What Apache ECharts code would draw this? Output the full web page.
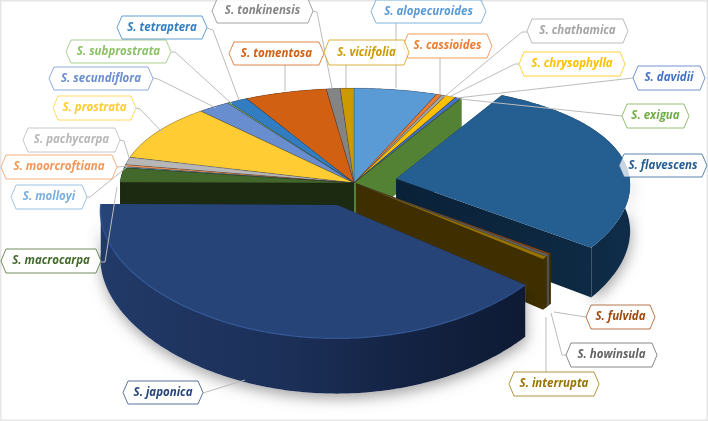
<!DOCTYPE html>
<html>
<head>
<meta charset="utf-8">
<style>html,body{margin:0;padding:0;background:#fff}#c{width:708px;height:421px}</style>
<script src="https://cdn.jsdelivr.net/npm/echarts@6/dist/echarts.min.js"></script>
</head>
<body>
<div id="c"></div>
<script>
// ---- data (share of the pie, %) ----
var species = ['S. alopecuroides','S. cassioides','S. chathamica','S. chrysophylla','S. davidii','S. exigua','S. flavescens','S. fulvida','S. howinsula','S. interrupta','S. japonica','S. macrocarpa','S. molloyi','S. moorcroftiana','S. pachycarpa','S. prostrata','S. secundiflora','S. subprostrata','S. tetraptera','S. tomentosa','S. tonkinensis','S. viciifolia'];
var shares = [6.03,0.39,0.31,0.75,0.42,0.06,27.14,0.19,0.28,0.39,39.19,2.17,0.17,0.31,1.17,9.17,2.36,0.14,1.42,5.97,1.0,1.0];
var explode = [0,0,0,0,0,0,0.185,0.012,0.012,0.012,0.21,0,0,0,0,0,0,0,0,0,0,0];

// ---- styles ----
var topColors = ['#5B9BD5','#ED7D31','#A5A5A5','#FFC000','#4472C4','#548235','#255E91','#9E480E','#636363','#997300','#264478','#43682B','#7CAFDD','#F1975A','#B7B7B7','#FFCD33','#698ED0','#8CC168','#327DC2','#D26012','#848484','#CC9A00'];
var wallColors = ['#1e3f5e','#5e3113','#424242','#664d00','#1b2d4e','#548235','#0f2a45','#3f2f00','#4f4f4f','#3f2f00','#172a4c','#1b2a11','#31465a','#603c24','#494949','#665214','#2a3953','#384d29','#14324e','#542607','#353535','#514000'];
var textColors = ['#5B9BD5','#ED7D31','#A5A5A5','#FFC000','#4472C4','#70AD47','#255E91','#9E480E','#636363','#997300','#264478','#43682B','#7CAFDD','#F1975A','#B7B7B7','#FFCD33','#698ED0','#8CC168','#327DC2','#D26012','#848484','#CC9A00'];
var paintOrder = [0,1,2,3,4,5,21,20,19,18,17,16,15,14,13,12,11,6,7,8,9,10];

// ---- callout layout: [left,right,top,bottom] and leader path ----
var boxes = [[371,486,0,23],[403,492,34,58],[527,628,19,43],[519,625,52,76],[633,705,66,90],[622,689,104,128],[619,707,154,177],[586,655,305,329],[566,657,343,367],[509,599,372,396],[123,203,381,404],[1,101,249,273],[11,87,185,209],[1,117,155,179],[23,120,128,152],[53,136,96,120],[49,153,67,90],[66,171,40,63],[117,207,16,39],[229,324,42,65],[212,313,-1,23],[324,409,40,65]];
var leaders = [
 [[396,23],[396,88]],[[440,58],[440,95]],[[527,32],[522,32],[444,97]],[[519,64],[515,64],[449,97]],[[633,78],[457,98]],[[622,116],[460,99]],[],
 [[586,317],[554,312]],[[566,355],[562,355],[551,313]],[[546,372],[546,317]],[[203,393],[245,380]],[[101,262],[105,262],[117,187]],
 [[87,197],[90,197],[127,167]],[[117,167],[128,166]],[[120,140],[124,141],[130,161]],[[136,108],[140,109],[163,133]],[[153,78],[158,79],[216,108]],
 [[171,52],[175,52],[232,104]],[[207,28],[213,30],[239,100]],[[285,65],[285,91]],[[313,11],[317,12],[332,88]],[[346,65],[346,88]]
];

// ---- projection of the tilted disc ----
var cx = 354, cy = 183, R = 234, Ra = 108, Py = 0.14, Px = 0.05, H = 46;
function project(X, Y, down) {
  var s = 1 / (1 + Py * Y);
  return [cx + R * X / (1 + Px * Y), cy - Ra * Y * s + (down ? H * s : 0)];
}
var total = shares.reduce(function (a, b) { return a + b; }, 0);
var starts = [], acc = 0;
shares.forEach(function (v) { starts.push(acc / total * 2 * Math.PI); acc += v; });

function sliceGeom(i) {
  var a0 = starts[i], a1 = a0 + shares[i] / total * 2 * Math.PI, mid = (a0 + a1) / 2;
  var ox = explode[i] * Math.sin(mid), oy = explode[i] * Math.cos(mid);
  var n = Math.max(2, Math.ceil((a1 - a0) / 0.015)), pts = [];
  for (var k = 0; k <= n; k++) {
    var t = a0 + (a1 - a0) * k / n;
    pts.push([ox + Math.sin(t), oy + Math.cos(t)]);
  }
  return {ox: ox, oy: oy, rim: pts};
}
function wallFill(i) {
  if (species[i] === 'S. japonica') {
    return {type: 'linear', global: true, x: 100, y: 0, x2: 530, y2: 0, colorStops: [
      {offset: 0, color: '#223a68'}, {offset: 0.45, color: '#1b2f57'}, {offset: 0.7, color: '#142344'}, {offset: 1, color: '#0e1a33'}]};
  }
  if (species[i] === 'S. flavescens') {
    return {type: 'linear', global: true, x: 400, y: 0, x2: 635, y2: 0, colorStops: [
      {offset: 0, color: '#0a2238'}, {offset: 0.7, color: '#0d2841'}, {offset: 1, color: '#0f2d4a'}]};
  }
  return wallColors[i];
}

function renderSlice(params, api) {
  var i = params.dataIndex, g = sliceGeom(i), base = paintOrder.indexOf(i) * 10 + 10, kids = [];
  var top = g.rim.map(function (p) { return project(p[0], p[1], false); });
  var bot = g.rim.map(function (p) { return project(p[0], p[1], true); });
  var apexT = project(g.ox, g.oy, false), apexB = project(g.ox, g.oy, true);
  var fill = wallFill(i), big = explode[i] > 0.1;

  if (big) {
    var front = [], frontB = [];
    g.rim.forEach(function (p, k) { if (p[1] - g.oy < 0.1) { front.push(top[k]); frontB.push(bot[k]); } });
    kids.push({type: 'polygon', z2: base, shape: {points: front.concat(frontB.slice().reverse())},
      style: {fill: '#fff', shadowBlur: 14, shadowColor: 'rgba(0,0,0,0.35)', shadowOffsetX: 1, shadowOffsetY: 5}});
  }
  kids.push({type: 'polygon', z2: base + 1, shape: {points: [apexT, top[0], bot[0], apexB]}, style: {fill: fill}});
  kids.push({type: 'polygon', z2: base + 1, shape: {points: [apexT, top[top.length - 1], bot[bot.length - 1], apexB]}, style: {fill: fill}});
  kids.push({type: 'polygon', z2: base + 2, shape: {points: top.concat(bot.slice().reverse())}, style: {fill: fill}});
  kids.push({type: 'polygon', z2: base + 3, shape: {points: [apexT].concat(top)},
    style: {fill: topColors[i], stroke: big ? topColors[i] : 'rgba(40,40,40,0.45)', lineWidth: big ? 0 : 0.5, lineJoin: 'round'}});
  if (species[i] === 'S. japonica') {
    var edge = top.filter(function (p, k) { return g.rim[k][1] - g.oy < 0.35; });
    kids.push({type: 'polyline', z2: base + 4, shape: {points: edge},
      style: {fill: 'none', stroke: '#2f5493', lineWidth: 1.5, opacity: 0.8}});
  }
  return {type: 'group', children: kids};
}

function renderCallout(params, api) {
  var i = params.dataIndex, b = boxes[i], n = 5, ym = (b[2] + b[3]) / 2, kids = [];
  if (leaders[i].length) {
    kids.push({type: 'polyline', z2: 400, shape: {points: leaders[i]}, style: {fill: 'none', stroke: '#bcbcbc', lineWidth: 1}});
  }
  kids.push({type: 'polygon', z2: 401,
    shape: {points: [[b[0], ym], [b[0] + n, b[2]], [b[1] - n, b[2]], [b[1], ym], [b[1] - n, b[3]], [b[0] + n, b[3]]]},
    style: {fill: '#fff', stroke: textColors[i], lineWidth: 1, opacity: 0.75}});
  kids.push({type: 'text', z2: 402, style: {
    x: (b[0] + b[1]) / 2, y: ym, text: species[i], align: 'center', verticalAlign: 'middle',
    fontFamily: '"Open Sans"', fontStyle: 'italic', fontWeight: 'bold', fontSize: 11.5, fill: textColors[i]}});
  return {type: 'group', children: kids};
}

var items = species.map(function (n, i) { return {name: n, value: shares[i]}; });
var chart = echarts.init(document.getElementById('c'), null, {renderer: 'canvas'});
chart.setOption({
  animation: false,
  backgroundColor: '#fff',
  graphic: [{type: 'rect', silent: true, z: -1, shape: {x: 0.5, y: 0.5, width: 707, height: 420},
    style: {fill: 'none', stroke: '#e6e6e6', lineWidth: 2}}],
  series: [
    {type: 'custom', coordinateSystem: 'none', silent: true, clip: false, data: items, renderItem: renderSlice},
    {type: 'custom', coordinateSystem: 'none', silent: true, clip: false, data: items, renderItem: renderCallout, z: 5}
  ]
});
</script>
</body>
</html>
